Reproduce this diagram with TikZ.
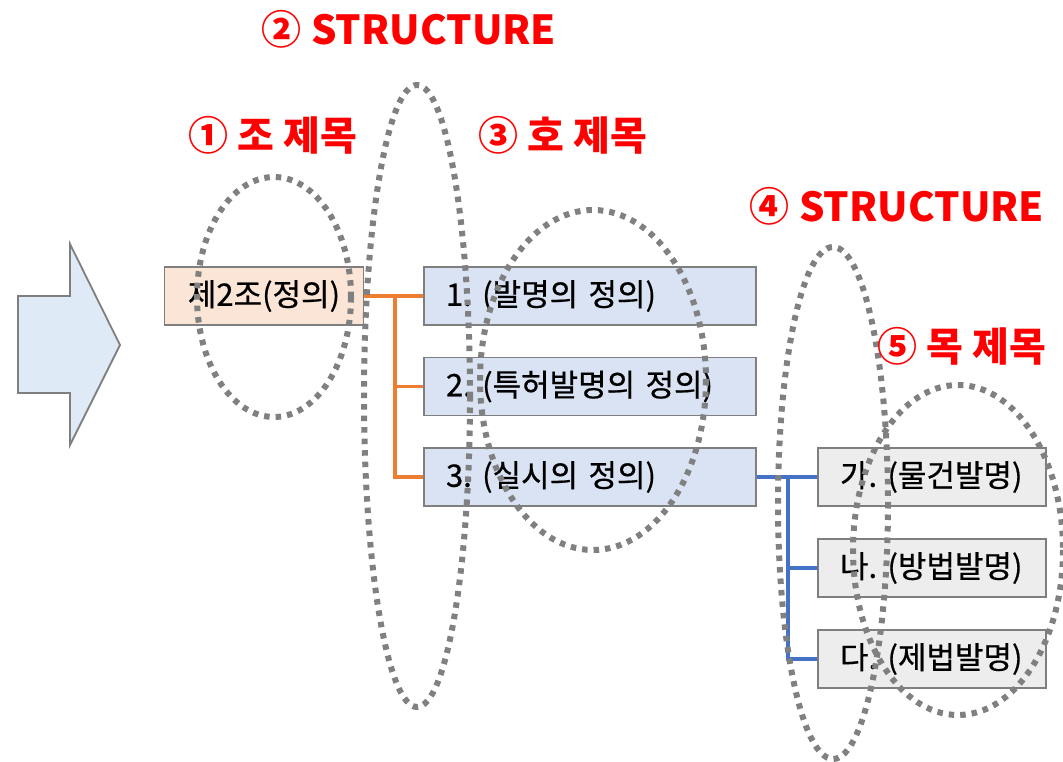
\documentclass[tikz,border=0pt]{standalone}
\usepackage{fontspec}
\setmainfont{Noto Sans CJK KR}
\newfontfamily\boxfont{Noto Sans CJK KR}[FakeBold=0.6]
\frenchspacing
\begin{document}
\begin{tikzpicture}[x=1pt,y=-1pt,
  box/.style={draw=boxline,line width=1.8pt,minimum height=58pt,inner ysep=0pt,font=\boxfont\fontsize{31}{33}\selectfont},
  jo/.style={box,fill=jofill,minimum width=199pt,inner xsep=0pt},
  ho/.style={box,fill=hofill,text width=288pt,inner xsep=22pt,align=left},
  mok/.style={box,fill=mokfill,text width=184pt,inner xsep=22pt,align=left},
  lab/.style={text=red,anchor=base,font=\fontsize{40}{44}\selectfont\bfseries,inner sep=0pt},
  ocon/.style={draw=orangec,line width=3.5pt},
  bcon/.style={draw=bluec,line width=3.5pt},
  dots/.style={draw=dotgray,line width=6pt,dash pattern=on 5.5pt off 6pt,line cap=butt}
]
\definecolor{boxline}{RGB}{127,127,127}
\definecolor{jofill}{RGB}{251,229,214}
\definecolor{hofill}{RGB}{218,227,243}
\definecolor{mokfill}{RGB}{237,237,237}
\definecolor{arrfill}{RGB}{222,235,247}
\definecolor{orangec}{RGB}{237,125,49}
\definecolor{bluec}{RGB}{68,114,196}
\definecolor{dotgray}{RGB}{128,128,128}
\useasboundingbox (0,0) rectangle (1063,762);
% block arrow
\draw[boxline,line width=1.8pt,fill=arrfill] (18,296) -- (70,296) -- (70,244) -- (120,345) -- (70,445) -- (70,393) -- (18,393) -- cycle;
% boxes
\node[jo] (j) at (264,296) {제2조(정의)};
\node[ho] (h1) at (590,296) {1. (발명의 정의)};
\node[ho] (h2) at (590,386.5) {2. (특허발명의 정의)};
\node[ho] (h3) at (590,477) {3. (실시의 정의)};
\node[mok] (m1) at (932,477) {가. (물건발명)};
\node[mok] (m2) at (932,568) {나. (방법발명)};
\node[mok] (m3) at (932,659) {다. (제법발명)};
% connectors
\coordinate (oj) at (395,296);
\coordinate (bj) at (788,477);
\draw[ocon] (j.east) -- (oj);
\draw[ocon] (oj) |- (h1.west);
\draw[ocon] (oj) |- (h2.west);
\draw[ocon] (oj) |- (h3.west);
\draw[bcon] (h3.east) -- (bj);
\draw[bcon] (bj) |- (m1.west);
\draw[bcon] (bj) |- (m2.west);
\draw[bcon] (bj) |- (m3.west);
% dotted ellipses
\draw[dots] (274,297) ellipse [x radius=77, y radius=120];
\draw[dots] (417,396) ellipse [x radius=53, y radius=311];
\draw[dots] (593,380) ellipse [x radius=113, y radius=170];
\draw[dots] (833,503) ellipse [x radius=55, y radius=256];
\draw[dots] (958,550) ellipse [x radius=105, y radius=165];
% labels
\node[lab] (l2) at (409,45) {② STRUCTURE};
\node[lab] (l1) at (273,151) {① 조 제목};
\node[lab] (l3) at (563,151) {③ 호 제목};
\node[lab] (l4) at (897,222) {④ STRUCTURE};
\node[lab] (l5) at (962,361) {⑤ 목 제목};
\end{tikzpicture}
\end{document}
